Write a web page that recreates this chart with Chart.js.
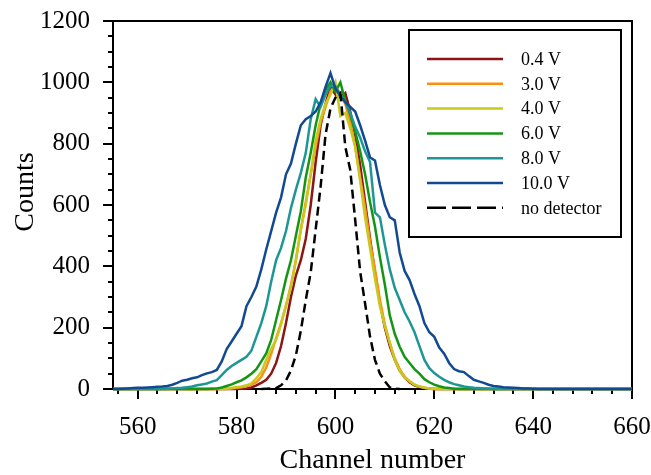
<!DOCTYPE html>
<html>
<head>
<meta charset="utf-8">
<title>Counts vs channel number</title>
<script src="https://cdn.jsdelivr.net/npm/chart.js@4.4.0/dist/chart.umd.min.js"></script>
<style>
  html, body { margin: 0; padding: 0; background: #fff; }
  #wrap { width: 651px; height: 475px; position: relative; }
</style>
</head>
<body>
<div id="wrap"><canvas id="spectrumChart"></canvas></div>
<script>
// channel numbers (x)
const channels = [
  555, 556, 557, 558, 559, 560, 561, 562, 563, 564,
  565, 566, 567, 568, 569, 570, 571, 572, 573, 574,
  575, 576, 577, 578, 579, 580, 581, 582, 583, 584,
  585, 586, 587, 588, 589, 590, 591, 592, 593, 594,
  595, 596, 597, 598, 599, 600, 601, 602, 603, 604,
  605, 606, 607, 608, 609, 610, 611, 612, 613, 614,
  615, 616, 617, 618, 619, 620, 621, 622, 623, 624,
  625, 626, 627, 628, 629, 630, 631, 632, 633, 634,
  635, 636, 637, 638, 639, 640, 641, 642, 643, 644,
  645, 646, 647, 648, 649, 650, 651, 652, 653, 654,
  655, 656, 657, 658, 659, 660
];

// counts per channel, one array per detector voltage
const counts04V = [
  0, 0, 0, 0, 0, 0, 0, 0, 0, 0,
  0, 0, 0, 0, 0, 0, 0, 0, 0, 0,
  0, 0, 0, 0, 0, 0, 1, 2, 5, 12,
  20, 30, 50, 85, 140, 215, 300, 370, 420, 490,
  600, 740, 860, 930, 985, 960, 950, 965, 905, 830,
  730, 610, 490, 380, 280, 200, 140, 95, 60, 38,
  22, 12, 6, 3, 1, 0, 0, 0, 0, 0,
  0, 0, 0, 0, 0, 0, 0, 0, 0, 0,
  0, 0, 0, 0, 0, 0, 0, 0, 0, 0,
  0, 0, 0, 0, 0, 0, 0, 0, 0, 0,
  0, 0, 0, 0, 0, 0
];
const counts30V = [
  0, 0, 0, 0, 0, 0, 0, 0, 0, 0,
  0, 0, 0, 0, 0, 0, 0, 0, 0, 0,
  0, 0, 0, 0, 2, 4, 6, 9, 14, 22,
  40, 70, 115, 165, 215, 270, 340, 420, 520, 610,
  700, 790, 870, 920, 970, 990, 960, 930, 870, 790,
  690, 590, 480, 390, 290, 210, 150, 100, 65, 40,
  25, 14, 8, 4, 2, 0, 0, 0, 0, 0,
  0, 0, 0, 0, 0, 0, 0, 0, 0, 0,
  0, 0, 0, 0, 0, 0, 0, 0, 0, 0,
  0, 0, 0, 0, 0, 0, 0, 0, 0, 0,
  0, 0, 0, 0, 0, 0
];
const counts40V = [
  0, 0, 0, 0, 0, 0, 0, 0, 0, 0,
  0, 0, 0, 0, 0, 0, 0, 0, 0, 0,
  0, 0, 0, 2, 4, 6, 8, 12, 18, 35,
  55, 95, 130, 160, 210, 275, 330, 420, 520, 600,
  700, 810, 880, 930, 960, 1000, 890, 900, 850, 790,
  680, 560, 460, 360, 270, 205, 150, 95, 60, 38,
  25, 14, 8, 4, 2, 0, 0, 0, 0, 0,
  0, 0, 0, 0, 0, 0, 0, 0, 0, 0,
  0, 0, 0, 0, 0, 0, 0, 0, 0, 0,
  0, 0, 0, 0, 0, 0, 0, 0, 0, 0,
  0, 0, 0, 0, 0, 0
];
const counts60V = [
  0, 0, 0, 0, 0, 0, 0, 0, 0, 0,
  0, 0, 0, 0, 0, 0, 0, 0, 0, 0,
  1, 2, 5, 10, 15, 22, 28, 38, 50, 65,
  90, 116, 160, 225, 290, 360, 420, 500, 580, 690,
  770, 860, 930, 975, 1000, 970, 1000, 940, 895, 840,
  775, 700, 610, 530, 430, 340, 240, 180, 138, 105,
  85, 65, 50, 32, 22, 14, 9, 5, 3, 1,
  0, 0, 0, 0, 0, 0, 0, 0, 0, 0,
  0, 0, 0, 0, 0, 0, 0, 0, 0, 0,
  0, 0, 0, 0, 0, 0, 0, 0, 0, 0,
  0, 0, 0, 0, 0, 0
];
const counts80V = [
  0, 0, 0, 0, 0, 0, 0, 0, 0, 0,
  0, 1, 2, 3, 4, 6, 8, 12, 15, 18,
  24, 29, 45, 62, 75, 85, 95, 105, 125, 170,
  215, 270, 350, 420, 460, 515, 590, 650, 705, 770,
  880, 945, 920, 960, 990, 985, 960, 935, 900, 855,
  820, 775, 740, 575, 560, 470, 390, 330, 290, 250,
  220, 185, 140, 95, 68, 52, 40, 30, 22, 16,
  12, 8, 6, 4, 3, 2, 1, 0, 0, 0,
  0, 0, 0, 0, 0, 0, 0, 0, 0, 0,
  0, 0, 0, 0, 0, 0, 0, 0, 0, 0,
  0, 0, 0, 0, 0, 0
];
const counts100V = [
  0, 0, 1, 2, 3, 4, 4, 5, 6, 7,
  8, 10, 14, 20, 27, 30, 35, 38, 45, 51,
  55, 62, 90, 130, 155, 180, 205, 270, 300, 334,
  390, 455, 515, 575, 625, 700, 735, 800, 860, 880,
  890, 905, 935, 985, 1030, 980, 955, 935, 920, 905,
  860, 810, 755, 745, 665, 600, 560, 550, 445, 385,
  355, 310, 270, 215, 185, 170, 135, 115, 85, 65,
  58, 55, 42, 30, 25, 20, 14, 10, 8, 6,
  5, 4, 3, 2, 2, 1, 0, 0, 0, 0,
  0, 0, 0, 0, 0, 0, 0, 0, 0, 0,
  0, 0, 0, 0, 0, 0
];
const countsNoDetector = [
  null, null, null, null, null, null, null, null, null, null,
  null, null, null, null, null, null, null, null, null, null,
  null, null, null, null, null, null, null, null, null, null,
  0, 1, 2, 3, 12, 28, 60, 110, 190, 290,
  380, 520, 660, 830, 915, 950, 965, 790, 714, 551,
  383, 279, 171, 95, 50, 25, 5, 1, 0, null,
  null, null, null, null, null, null, null, null, null, null,
  null, null, null, null, null, null, null, null, null, null,
  null, null, null, null, null, null, null, null, null, null,
  null, null, null, null, null, null, null, null, null, null,
  null, null, null, null, null, null
];

const seriesLabels = ['0.4 V', '3.0 V', '4.0 V', '6.0 V', '8.0 V', '10.0 V', 'no detector'];
const seriesColors = ['#8c1414', '#ff8c14', '#c8c81e', '#149614', '#1e9696', '#124a92', '#000000'];

const SERIF = "'Liberation Serif', 'Times New Roman', serif";

// box frame + outward tick marks (major and minor), y axis title
const frameTicks = {
    id: 'frameTicks',
    beforeDatasetsDraw(chart) {
        const { ctx, chartArea: a, scales: { x, y } } = chart;
        ctx.save();
        ctx.strokeStyle = '#000';
        ctx.lineWidth = 2;
        ctx.strokeRect(a.left, a.top, a.right - a.left, a.bottom - a.top);
        ctx.beginPath();
        for (let v = 556; v <= 660; v += 4) {
            const px = Math.round(x.getPixelForValue(v));
            const len = v % 20 === 0 ? 10 : 5;
            ctx.moveTo(px, a.bottom);
            ctx.lineTo(px, a.bottom + len);
        }
        for (let v = 0; v <= 1200; v += 50) {
            const py = Math.round(y.getPixelForValue(v));
            const len = v % 200 === 0 ? 10 : 5;
            ctx.moveTo(a.left, py);
            ctx.lineTo(a.left - len, py);
        }
        ctx.stroke();

        // y title sits a bit above the middle of the axis, as in the original
        ctx.translate(26, 192);
        ctx.rotate(-Math.PI / 2);
        ctx.font = '28px ' + SERIF;
        ctx.fillStyle = '#000';
        ctx.textAlign = 'center';
        ctx.textBaseline = 'middle';
        ctx.fillText('Counts', 0, 0);
        ctx.restore();
    }
};

// legend box drawn inside the plot, top right
const boxLegend = {
    id: 'boxLegend',
    afterDraw(chart) {
        const ctx = chart.ctx;
        const left = 409, top = 30, width = 212, height = 207;
        ctx.save();
        ctx.strokeStyle = '#000';
        ctx.lineWidth = 2;
        ctx.fillStyle = '#fff';
        ctx.fillRect(left, top, width, height);
        ctx.strokeRect(left, top, width, height);
        ctx.font = '18px ' + SERIF;
        ctx.textBaseline = 'middle';
        ctx.textAlign = 'left';
        chart.data.datasets.forEach(function(ds, i) {
            const rowY = 59 + i * 24.8;
            ctx.beginPath();
            ctx.strokeStyle = ds.borderColor;
            ctx.lineWidth = 2.5;
            ctx.setLineDash(ds.borderDash && ds.borderDash.length ? [19, 6] : []);
            ctx.moveTo(427, rowY);
            ctx.lineTo(503, rowY);
            ctx.stroke();
            ctx.setLineDash([]);
            ctx.fillStyle = '#000';
            ctx.fillText(ds.label, 521, rowY + 1);
        });
        ctx.restore();
    }
};

function buildDatasets() {
    const values = [counts04V, counts30V, counts40V, counts60V, counts80V, counts100V, countsNoDetector];
    const drawOrder = [6, 5, 4, 3, 2, 1, 0];
    return values.map(function(vals, i) {
        return {
            label: seriesLabels[i],
            data: vals,
            borderColor: seriesColors[i],
            backgroundColor: seriesColors[i],
            borderWidth: 2.5,
            borderDash: i === 6 ? [9, 5] : [],
            pointRadius: 0,
            tension: 0,
            fill: false,
            clip: false,
            order: drawOrder[i]
        };
    });
}

document.addEventListener('DOMContentLoaded', function() {
    const ctx = document.getElementById('spectrumChart');

    new Chart(ctx.getContext('2d'), {
        type: 'line',
        data: {
            labels: channels,
            datasets: buildDatasets()
        },
        options: {
            responsive: true,
            maintainAspectRatio: false,
            animation: false,
            devicePixelRatio: 1,
            layout: {
                padding: { left: 8, right: 19, top: 21, bottom: 0 }
            },
            plugins: {
                legend: { display: false },
                tooltip: { enabled: false }
            },
            scales: {
                x: {
                    type: 'linear',
                    min: 555,
                    max: 660,
                    grid: { display: false, drawTicks: false },
                    border: { display: false },
                    ticks: {
                        stepSize: 20,
                        includeBounds: false,
                        autoSkip: false,
                        maxRotation: 0,
                        padding: 23,
                        color: '#000',
                        font: { family: SERIF, size: 25 },
                        callback: function(value) {
                            return String(value);
                        }
                    },
                    title: {
                        display: true,
                        text: 'Channel number',
                        color: '#000',
                        padding: 0,
                        font: { family: SERIF, size: 28, lineHeight: 1.0 }
                    },
                    afterFit: function(scale) {
                        scale.height = 86;
                        // end labels may hang past the plot; the layout padding covers them
                        scale.paddingLeft = 0;
                        scale.paddingRight = 0;
                    }
                },
                y: {
                    min: 0,
                    max: 1200,
                    grid: { display: false, drawTicks: false },
                    border: { display: false },
                    ticks: {
                        stepSize: 200,
                        padding: 23,
                        color: '#000',
                        font: { family: SERIF, size: 25 },
                        callback: function(value) {
                            return String(value);
                        }
                    },
                    title: { display: false },
                    afterFit: function(scale) {
                        scale.width = 105;
                        scale.paddingTop = 0;
                        scale.paddingBottom = 0;
                    }
                }
            }
        },
        plugins: [frameTicks, boxLegend]
    });
});
</script>
</body>
</html>
